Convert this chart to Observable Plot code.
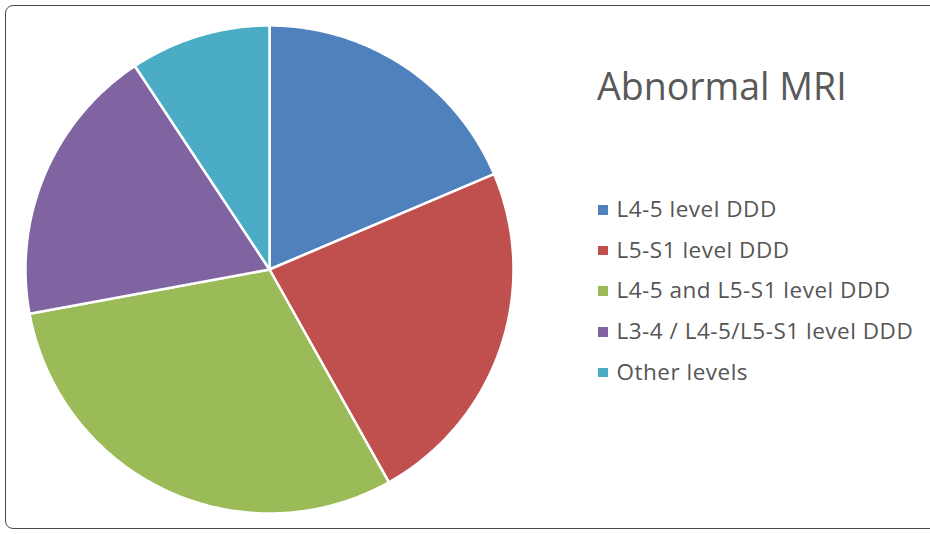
<!DOCTYPE html>
<html>
<head>
<meta charset="utf-8">
<script src="https://cdn.jsdelivr.net/npm/d3@7"></script>
<script src="https://cdn.jsdelivr.net/npm/@observablehq/plot@0.6"></script>
<style>
  html, body { margin: 0; padding: 0; background: #fff; }
  #wrap { position: relative; width: 930px; height: 534px; overflow: hidden; font-family: "Open Sans", sans-serif; }
  #frame { position: absolute; left: 5px; top: 5px; width: 940px; height: 524px; border: 1.3px solid #4a4a4a; border-radius: 8px; box-sizing: border-box; }
  #chart { position: absolute; left: 0; top: 0; }
  #title { position: absolute; left: 597px; top: 67px; font-size: 37.5px; color: #595959; white-space: nowrap; line-height: 1; }
  #legend { position: absolute; left: 598px; top: 188px; }
  .item { display: flex; align-items: center; height: 40.7px; font-size: 22.5px; letter-spacing: 0.5px; color: #555; white-space: nowrap; }
  .sw { width: 9.5px; height: 9.5px; margin-right: 9px; margin-top: 3px; flex: none; }
</style>
</head>
<body>
<div id="wrap">
  <div id="frame"></div>
  <div id="chart"></div>
  <div id="title"></div>
  <div id="legend"></div>
</div>
<script>
const title = "Abnormal MRI";
const categories = ["L4-5 level DDD", "L5-S1 level DDD", "L4-5 and L5-S1 level DDD", "L3-4 / L4-5/L5-S1 level DDD", "Other levels"];
const values = [8, 10, 13, 8, 4];
const colors = ["#4F81BD", "#C0504D", "#9BBB59", "#8064A2", "#4BACC6"];

const data = categories.map((name, i) => ({name, value: values[i]}));
const arcs = d3.pie().sort(null).value(d => d.value)(data);

// Build each slice as a polygon in unit coordinates (angle 0 at 12 o'clock, clockwise)
function slicePolygon(a) {
  const pts = [[0, 0]];
  const n = Math.max(2, Math.ceil((a.endAngle - a.startAngle) / (Math.PI / 360)));
  for (let k = 0; k <= n; k++) {
    const t = a.startAngle + (a.endAngle - a.startAngle) * k / n;
    pts.push([Math.sin(t), Math.cos(t)]);
  }
  pts.push([0, 0]);
  return {type: "Feature", properties: {name: a.data.name}, geometry: {type: "Polygon", coordinates: [pts]}};
}
const slices = arcs.map(slicePolygon);
const outline = {type: "Feature", geometry: {type: "Polygon", coordinates: [d3.range(0, 361, 2).map(d => [Math.sin(d * Math.PI / 180), Math.cos(d * Math.PI / 180)])]}};

const chart = Plot.plot({
  width: 930,
  height: 534,
  marginLeft: 25,
  marginTop: 25,
  marginRight: 417,
  marginBottom: 21,
  projection: {type: "reflect-y", domain: outline},
  color: {domain: categories, range: colors},
  marks: [
    Plot.geo(slices, {fill: d => d.properties.name, stroke: "white", strokeWidth: 2.5, strokeLinejoin: "round"})
  ]
});
document.getElementById("chart").appendChild(chart);

document.getElementById("title").textContent = title;
const legend = document.getElementById("legend");
categories.forEach((c, i) => {
  const row = document.createElement("div");
  row.className = "item";
  const sw = document.createElement("span");
  sw.className = "sw";
  sw.style.background = colors[i];
  const lab = document.createElement("span");
  lab.textContent = c;
  row.appendChild(sw);
  row.appendChild(lab);
  legend.appendChild(row);
});
</script>
</body>
</html>
